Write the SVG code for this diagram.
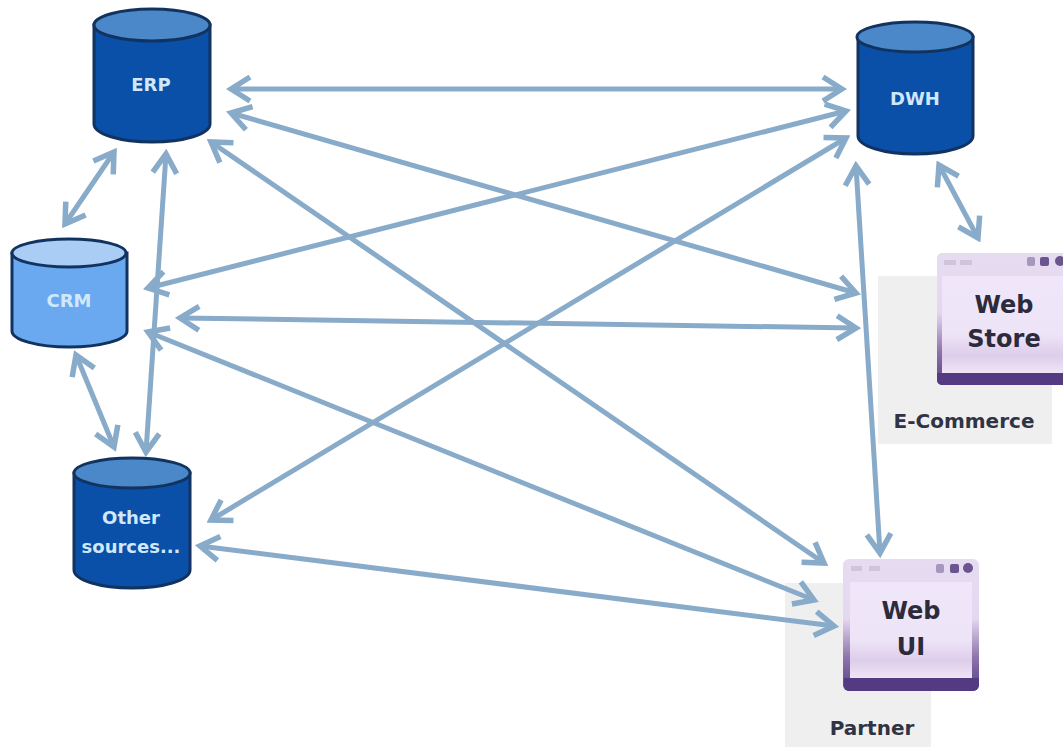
<svg xmlns="http://www.w3.org/2000/svg" width="1063" height="747" viewBox="0 0 1063 747">
<defs>
<linearGradient id="frm" x1="0" y1="0" x2="0" y2="1"><stop offset="0" stop-color="#e6dcf0"/><stop offset="0.45" stop-color="#e4d8f0"/><stop offset="0.75" stop-color="#8d72ab"/><stop offset="1" stop-color="#5a3f88"/></linearGradient>
<linearGradient id="win" x1="0" y1="0" x2="0" y2="1"><stop offset="0" stop-color="#efe6f9"/><stop offset="0.6" stop-color="#eee4f8"/><stop offset="0.82" stop-color="#ddcdea"/><stop offset="1" stop-color="#efe5f6"/></linearGradient>
<marker id="ah" viewBox="0 0 30 30" refX="25" refY="15" markerWidth="30" markerHeight="30" markerUnits="userSpaceOnUse" orient="auto-start-reverse"><path d="M6 3 L25 15 L6 27" fill="none" stroke="#88abc9" stroke-width="5.5"/></marker>
</defs>
<style>
text{font-family:"DejaVu Sans",sans-serif;font-weight:700;text-anchor:middle}
.w{fill:#d0e8fb;font-size:18px}
.d{fill:#2b2b3c;font-size:24px}
.l{fill:#2f3346;font-size:20px}
.body{stroke:#12335f;stroke-width:3}
.dk{fill:#0a4fa8}.dkt{fill:#4a88c9}
.lt{fill:#6aa9f0}.ltt{fill:#a9cdf5}
.c line{stroke:#88abc9;stroke-width:5;marker-start:url(#ah);marker-end:url(#ah)}
.panel{fill:#efefef}
.frame{fill:url(#frm)}.bar{fill:#533a82}
.btn{fill:#6b5590}.soft{fill:#cfc5da}
</style>
<rect class="panel" x="878" y="276" width="174" height="168"/>
<rect class="panel" x="785" y="583" width="146" height="164"/>
<g id="erp">
<path class="body dk" d="M94 25V124C94 134 120 142 152 142S210 134 210 124V25Z"/>
<ellipse class="body dkt" cx="152" cy="25" rx="58" ry="16"/>
<text class="w" x="151" y="91">ERP</text>
</g>
<g id="dwh">
<path class="body dk" d="M858 37V136C858 146 884 154 915 154S973 146 973 136V37Z"/>
<ellipse class="body dkt" cx="915" cy="37" rx="58" ry="15"/>
<text class="w" x="915" y="105">DWH</text>
</g>
<g id="crm">
<path class="body lt" d="M12 253V331C12 340 38 347 69 347S127 340 127 331V253Z"/>
<ellipse class="body ltt" cx="69" cy="253" rx="57" ry="14"/>
<text class="w" x="69" y="307">CRM</text>
</g>
<g id="other">
<path class="body dk" d="M74 473V570C74 580 100 588 132 588S190 580 190 570V473Z"/>
<ellipse class="body dkt" cx="132" cy="473" rx="58" ry="15"/>
<text class="w" x="131" y="524">Other</text>
<text class="w" x="131" y="553">sources...</text>
</g>
<g id="webstore">
<rect class="frame" x="937" y="253" width="130" height="132" rx="5"/>
<rect x="942" y="276" width="125" height="97" fill="url(#win)"/>
<path class="bar" d="M937 373H1063V385H943Q937 385 937 379Z"/>
<rect class="soft" x="944" y="260" width="12" height="5"/><rect class="soft" x="960" y="260" width="12" height="5"/>
<circle class="btn" cx="1060" cy="261" r="5"/><rect class="btn" x="1040" y="257" width="9" height="9" rx="2"/><rect x="1027" y="257" width="8" height="9" rx="2" fill="#a697bd"/>
<text class="d" x="1004" y="313">Web</text>
<text class="d" x="1004" y="347">Store</text>
<text class="l" x="964" y="428">E-Commerce</text>
</g>
<g id="webui">
<rect class="frame" x="843" y="559" width="136" height="132" rx="6"/>
<rect x="850" y="582" width="122" height="96" fill="url(#win)"/>
<path class="bar" d="M844 678H979V684Q979 691 972 691H850Q844 691 844 684Z"/>
<rect class="soft" x="851" y="566" width="11" height="5"/><rect class="soft" x="869" y="566" width="11" height="5"/>
<circle class="btn" cx="968" cy="568" r="5"/><rect class="btn" x="950" y="564" width="9" height="9" rx="2"/><rect x="936" y="564" width="8" height="9" rx="2" fill="#a697bd"/>
<text class="d" x="911" y="619">Web</text>
<text class="d" x="911" y="655">UI</text>
<text class="l" x="872" y="735">Partner</text>
</g>
<g id="connectors" class="c">
<line x1="231" y1="89" x2="842" y2="89"/>
<line x1="231" y1="113" x2="856" y2="293"/>
<line x1="211" y1="142" x2="824" y2="563"/>
<line x1="114" y1="152" x2="65" y2="224"/>
<line x1="166" y1="154" x2="146" y2="452"/>
<line x1="148" y1="288" x2="846" y2="111"/>
<line x1="180" y1="318" x2="856" y2="328"/>
<line x1="148" y1="332" x2="814" y2="600"/>
<line x1="76" y1="355" x2="114" y2="447"/>
<line x1="211" y1="520" x2="846" y2="138"/>
<line x1="200" y1="546" x2="834" y2="626"/>
<line x1="856" y1="166" x2="880" y2="553"/>
<line x1="939" y1="165" x2="978" y2="238"/>
</g>
</svg>
